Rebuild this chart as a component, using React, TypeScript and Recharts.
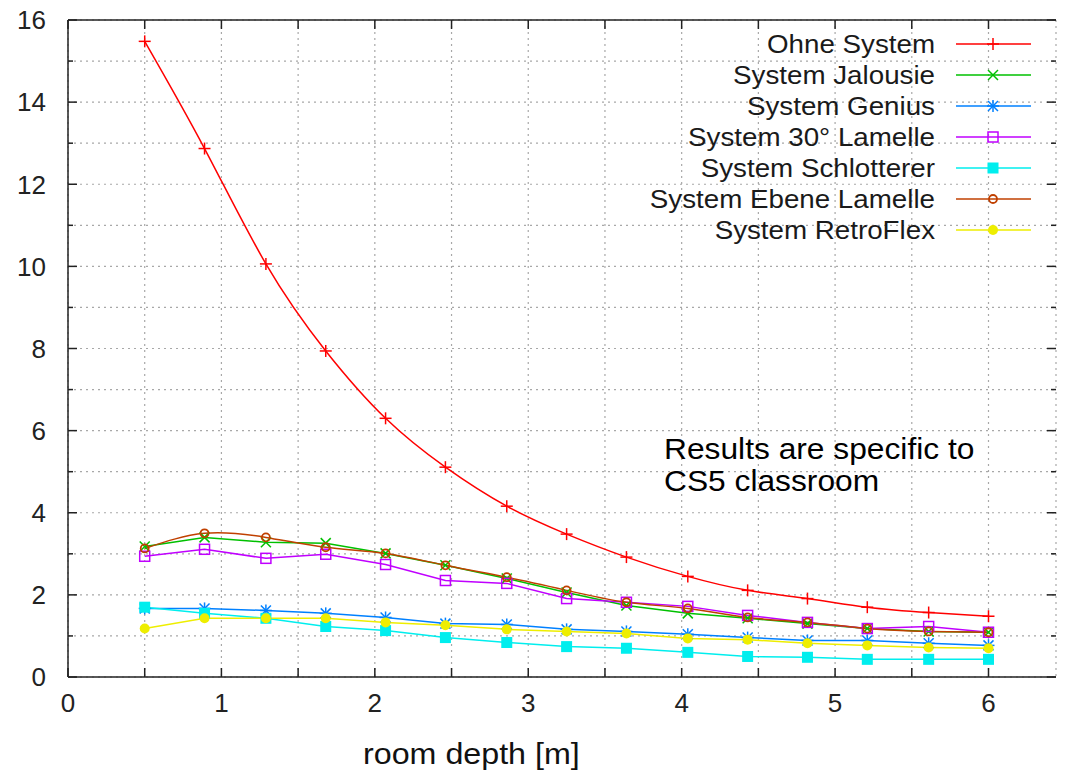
import {
  CartesianGrid,
  Legend,
  Line,
  LineChart,
  ReferenceLine,
  XAxis,
  YAxis,
} from "recharts";

// room depth [m] of the measuring points
const depth = [0.5, 0.89, 1.29, 1.68, 2.07, 2.46, 2.86, 3.25, 3.64, 4.04, 4.43, 4.82, 5.21, 5.61, 6.0];

const ohneSystem = [15.48, 12.87, 10.06, 7.94, 6.3, 5.11, 4.16, 3.48, 2.92, 2.45, 2.11, 1.91, 1.7, 1.57, 1.48];
const jalousie = [3.18, 3.4, 3.28, 3.26, 3.01, 2.72, 2.4, 2.06, 1.74, 1.55, 1.43, 1.3, 1.18, 1.11, 1.09];
const genius = [1.67, 1.67, 1.62, 1.55, 1.45, 1.3, 1.28, 1.16, 1.11, 1.04, 0.96, 0.89, 0.89, 0.82, 0.77];
const lamelle30 = [2.94, 3.11, 2.89, 2.99, 2.74, 2.35, 2.28, 1.91, 1.82, 1.72, 1.5, 1.33, 1.18, 1.23, 1.09];
const schlotterer = [1.7, 1.55, 1.43, 1.23, 1.13, 0.96, 0.84, 0.74, 0.7, 0.6, 0.5, 0.48, 0.43, 0.43, 0.43];
const ebeneLamelle = [3.13, 3.5, 3.4, 3.16, 3.01, 2.72, 2.43, 2.11, 1.82, 1.67, 1.45, 1.33, 1.18, 1.11, 1.09];
const retroFlex = [1.18, 1.43, 1.43, 1.43, 1.33, 1.26, 1.16, 1.11, 1.06, 0.94, 0.91, 0.82, 0.77, 0.72, 0.7];

const xTicks = [0, 0.5, 1, 1.5, 2, 2.5, 3, 3.5, 4, 4.5, 5, 5.5, 6];
const yTicks = [0, 1, 2, 3, 4, 5, 6, 7, 8, 9, 10, 11, 12, 13, 14, 15, 16];

const series = [
  { key: "ohne", name: "Ohne System", color: "#ff0000", marker: "plus", smooth: true },
  { key: "jalousie", name: "System Jalousie", color: "#00c000", marker: "cross", smooth: false },
  { key: "genius", name: "System Genius", color: "#0080ff", marker: "star", smooth: false },
  { key: "lamelle30", name: "System 30° Lamelle", color: "#c000ff", marker: "openSquare", smooth: false },
  { key: "schlotterer", name: "System Schlotterer", color: "#00eeee", marker: "filledSquare", smooth: false },
  { key: "ebene", name: "System Ebene Lamelle", color: "#c04000", marker: "openCircle", smooth: true },
  { key: "retroflex", name: "System RetroFlex", color: "#eeee00", marker: "filledCircle", smooth: false },
];

const data = depth.map((d, i) => ({
  depth: d,
  ohne: ohneSystem[i],
  jalousie: jalousie[i],
  genius: genius[i],
  lamelle30: lamelle30[i],
  schlotterer: schlotterer[i],
  ebene: ebeneLamelle[i],
  retroflex: retroFlex[i],
}));

const FONT = '"Liberation Sans", Arial, sans-serif';
const AXIS = "#222";
const PLOT_TOP = 20;
const PLOT_RIGHT = 1056;

function Marker({ shape, color, cx, cy }: { shape: string; color: string; cx: number; cy: number }) {
  switch (shape) {
    case "plus":
      return (
        <g stroke={color} strokeWidth={1.5}>
          <line x1={cx - 6} y1={cy} x2={cx + 6} y2={cy} />
          <line x1={cx} y1={cy - 6} x2={cx} y2={cy + 6} />
        </g>
      );
    case "cross":
      return (
        <g stroke={color} strokeWidth={1.5}>
          <line x1={cx - 5} y1={cy - 5} x2={cx + 5} y2={cy + 5} />
          <line x1={cx - 5} y1={cy + 5} x2={cx + 5} y2={cy - 5} />
        </g>
      );
    case "star":
      return (
        <g stroke={color} strokeWidth={1.5}>
          <line x1={cx - 6} y1={cy} x2={cx + 6} y2={cy} />
          <line x1={cx} y1={cy - 6} x2={cx} y2={cy + 6} />
          <line x1={cx - 5} y1={cy - 5} x2={cx + 5} y2={cy + 5} />
          <line x1={cx - 5} y1={cy + 5} x2={cx + 5} y2={cy - 5} />
        </g>
      );
    case "openSquare":
      return <rect x={cx - 5} y={cy - 5} width={10} height={10} fill="none" stroke={color} strokeWidth={1.5} />;
    case "filledSquare":
      return <rect x={cx - 5.5} y={cy - 5.5} width={11} height={11} fill={color} />;
    case "openCircle":
      return <circle cx={cx} cy={cy} r={4} fill="none" stroke={color} strokeWidth={1.8} />;
    default:
      return <circle cx={cx} cy={cy} r={5} fill={color} />;
  }
}

// text in the original is a little wider than Liberation Sans, stretch it horizontally
function WideText({ x, y, sx, size, anchor, fill, children }: any) {
  return (
    <text
      transform={`translate(${x} ${y}) scale(${sx} 1)`}
      textAnchor={anchor}
      fontSize={size}
      fontFamily={FONT}
      fill={fill}
    >
      {children}
    </text>
  );
}

function XTick(props: any) {
  const { x, y, payload } = props;
  const v = payload.value;
  return (
    <g>
      <line x1={x} y1={y} x2={x} y2={y - 9} stroke={AXIS} strokeWidth={1.5} />
      <line x1={x} y1={PLOT_TOP} x2={x} y2={PLOT_TOP + 9} stroke={AXIS} strokeWidth={1.5} />
      {Number.isInteger(v) && (
        <text x={x} y={y + 35} textAnchor="middle" fontSize={26} fontFamily={FONT} fill={AXIS}>
          {v}
        </text>
      )}
    </g>
  );
}

function YTick(props: any) {
  const { x, y, payload } = props;
  const v = payload.value;
  const major = v % 2 === 0;
  const len = major ? 9 : 5;
  return (
    <g>
      <line x1={x} y1={y} x2={x + len} y2={y} stroke={AXIS} strokeWidth={1.5} />
      <line x1={PLOT_RIGHT} y1={y} x2={PLOT_RIGHT - len} y2={y} stroke={AXIS} strokeWidth={1.5} />
      {major && (
        <text x={x - 22} y={y} dy="0.36em" textAnchor="end" fontSize={26} fontFamily={FONT} fill={AXIS}>
          {v}
        </text>
      )}
    </g>
  );
}

function LegendBox() {
  return (
    <svg width={420} height={220}>
      {series.map((s, i) => {
        const y = 16 + i * 31;
        return (
          <g key={s.key}>
            <WideText x={305} y={y + 9} sx={1.067} size={26} anchor="end" fill="#1a1a1a">
              {s.name}
            </WideText>
            <line x1={326} y1={y} x2={401} y2={y} stroke={s.color} strokeWidth={1.5} />
            <Marker shape={s.marker} color={s.color} cx={363} cy={y} />
          </g>
        );
      })}
    </svg>
  );
}

export default function App() {
  return (
    <div style={{ position: "absolute", left: 0, top: 0, background: "#fff" }}>
      <LineChart
        width={1065}
        height={771}
        data={data}
        margin={{ top: PLOT_TOP, right: 9, left: 8, bottom: 0 }}
      >
        <CartesianGrid stroke="#a8a8a8" strokeWidth={1.2} strokeDasharray="2 4" />
        <XAxis
          dataKey="depth"
          type="number"
          domain={[0, 6.44]}
          ticks={xTicks}
          interval={0}
          height={94}
          stroke={AXIS}
          strokeWidth={1.5}
          tickLine={false}
          tickSize={0}
          tickMargin={0}
          tick={(p: any) => <XTick {...p} />}
        />
        <YAxis
          type="number"
          domain={[0, 16]}
          ticks={yTicks}
          interval={0}
          width={60}
          stroke={AXIS}
          strokeWidth={1.5}
          tickLine={false}
          tickSize={0}
          tickMargin={0}
          tick={(p: any) => <YTick {...p} />}
        />
        <ReferenceLine y={16} stroke={AXIS} strokeWidth={1.5} />
        <Legend
          layout="vertical"
          align="center"
          verticalAlign="middle"
          wrapperStyle={{ left: 630, top: 28, width: 420, height: 220 }}
          content={() => <LegendBox />}
        />
        {series.map((s) => (
          <Line
            key={s.key}
            dataKey={s.key}
            name={s.name}
            type={s.smooth ? "natural" : "linear"}
            stroke={s.color}
            strokeWidth={1.5}
            isAnimationActive={false}
            dot={(p: any) => <Marker key={p.index} shape={s.marker} color={s.color} cx={p.cx} cy={p.cy} />}
            activeDot={false}
          />
        ))}
        <WideText x={664} y={459} sx={1.058} size={30} anchor="start" fill="#000">
          Results are specific to
        </WideText>
        <WideText x={664} y={491} sx={1.058} size={30} anchor="start" fill="#000">
          CS5 classroom
        </WideText>
        <WideText x={363} y={764} sx={1.075} size={30} anchor="start" fill="#111">
          room depth [m]
        </WideText>
      </LineChart>
    </div>
  );
}
